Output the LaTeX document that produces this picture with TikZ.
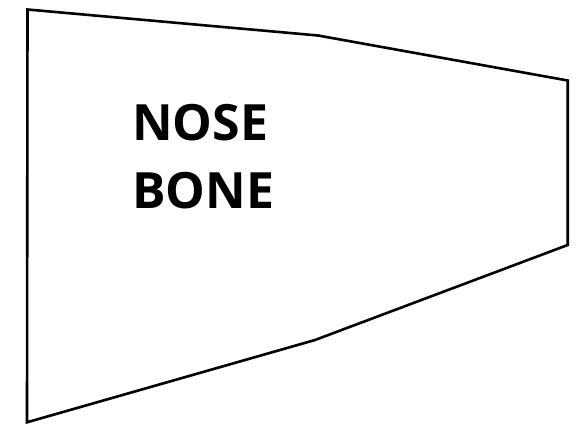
\documentclass[tikz,border=0pt]{standalone}
\usepackage{fontspec}
\setmainfont{Open Sans}
\begin{document}
\begin{tikzpicture}[x=1pt,y=-1pt,
  outline/.style={draw=black,line width=2.6pt,line join=miter},
  label/.style={font=\fontsize{50}{68}\selectfont\bfseries,inner sep=0pt,anchor=base west}]
\useasboundingbox (0,0) rectangle (588,428);
\draw[outline] (27.5,9.5) -- (318,35.5) -- (567.7,80.5) -- (567.7,245) -- (315,340) -- (27,422.3) -- cycle;
\node[label] (nose) at (132,140) {NOSE};
\node[label] (bone) at (132,208) {BONE};
\end{tikzpicture}
\end{document}
